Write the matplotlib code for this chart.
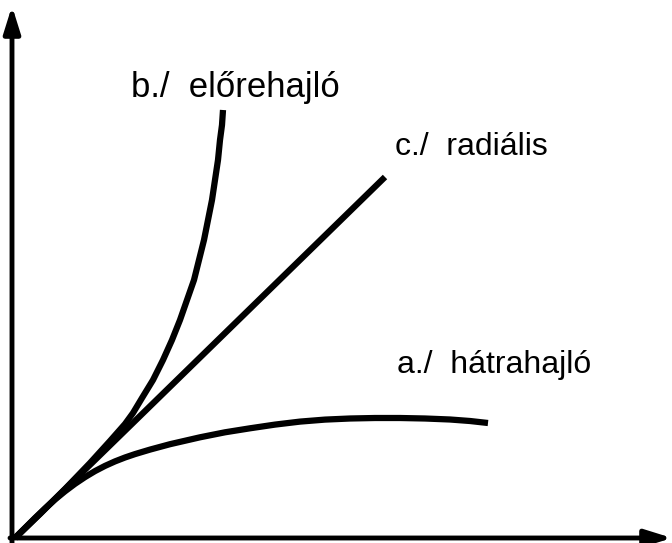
import matplotlib.pyplot as plt

# curve points (pixel units, y down)
a_x = [15, 25, 35, 45, 55, 65, 75, 85, 95, 105, 115, 125, 135, 150, 170, 200,
       225, 250, 275, 300, 325, 350, 375, 400, 425, 450, 470, 488]
a_y = [538, 528, 518, 508.5, 499.5, 491.3, 483.8, 477.1, 471.1, 465.9, 461.4,
       457.5, 454.1, 449.6, 444.2, 437.3, 432.3, 428.3, 424.6, 421.6, 419.6,
       418.5, 418, 418, 418.5, 419.5, 421, 423]
b_x = [15, 40, 65, 90, 110, 125, 133, 142, 153, 163, 172, 180, 187, 194, 199,
       204, 208, 212, 215, 218, 220, 222, 223]
b_y = [538, 514, 489, 463, 441, 424, 413, 398, 380, 360, 340, 320, 300, 280,
       260, 240, 220, 200, 180, 160, 140, 125, 110]
c_x = [15, 385]
c_y = [538, 177]

labels = ["a./  hátrahajló", "b./  előrehajló", "c./  radiális"]
label_pos = [(397, 373), (131, 97), (395, 155)]
label_size = [23, 25, 23]

plt.rcParams['font.family'] = ['Liberation Sans', 'DejaVu Sans']

fig = plt.figure(figsize=(6.72, 5.43), dpi=100)
ax = fig.add_axes([0, 0, 1, 1])
ax.set_xlim(0, 672)
ax.set_ylim(543, 0)
ax.axis('off')

# axes with arrows
arrow = dict(arrowstyle='-|>,head_length=1.6,head_width=0.5', color='black',
             lw=3.5, shrinkA=0, shrinkB=0)
ax.annotate('', xy=(12, 6), xytext=(12, 543), arrowprops=arrow)
ax.annotate('', xy=(672, 538), xytext=(10, 538), arrowprops=arrow)

for xs, ys in [(a_x, a_y), (b_x, b_y), (c_x, c_y)]:
    ax.plot(xs, ys, color='black', lw=4.5, solid_capstyle='butt',
            solid_joinstyle='round')

for txt, (x, y), fs in zip(labels, label_pos, label_size):
    ax.text(x, y, txt, fontsize=fs, ha='left', va='baseline')

fig.savefig('out.png', dpi=100)
